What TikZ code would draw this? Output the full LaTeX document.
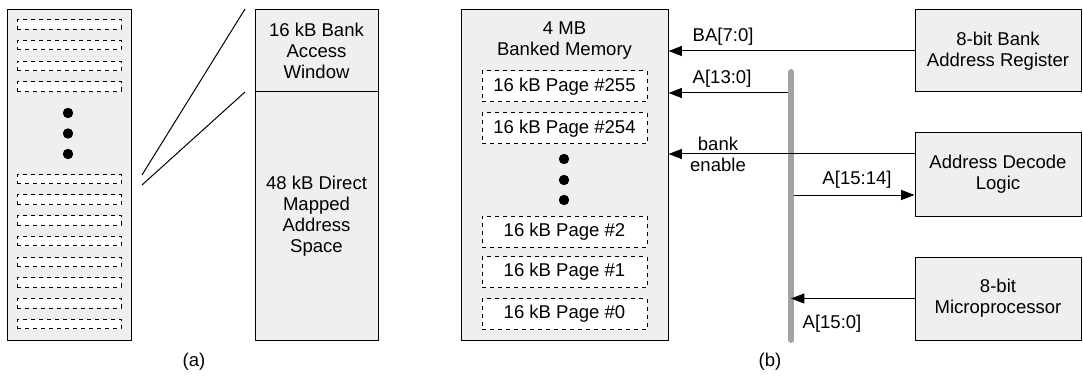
\documentclass[tikz,border=0pt]{standalone}
\usepackage{fontspec}
\setmainfont{Liberation Sans}
\usetikzlibrary{arrows.meta,positioning}
\definecolor{boxgray}{RGB}{239,239,239}
\definecolor{busgray}{RGB}{163,163,163}

\begin{document}
\begin{tikzpicture}[
    x=0.75pt, y=-0.75pt,
    font=\fontsize{13.9}{15.75}\selectfont,
    block/.style={draw, fill=boxgray, line width=0.75pt, align=center, inner sep=0pt},
    slot/.style={draw, fill=white, dashed, line width=0.75pt, minimum width=78pt, minimum height=7.2pt, inner sep=0pt},
    page/.style={draw, fill=white, dashed, line width=0.75pt, minimum width=123.75pt, minimum height=23.25pt, inner sep=0pt},
    dot/.style={circle, fill=black, inner sep=0pt, minimum size=7.8pt},
    sig/.style={-{Triangle[length=10pt, width=7.5pt]}, line width=0.75pt}
]
\useasboundingbox (0,0) rectangle (1083,378);

% (a) Banked memory with its slots
\node[block, minimum width=93pt, minimum height=247.5pt] (banks) at (69,175) {};
\foreach \i in {0,...,3}
    \node[slot] (top\i) at (69, 24.5+20.7*\i) {};
\foreach \i in {0,...,7}
    \node[slot] (low\i) at (69, 179+20.7*\i) {};
\node[dot] (adot1) at (68,113) {};
\node[dot] (adot2) at (68,133.5) {};
\node[dot] (adot3) at (68,154) {};

% (a) Address space
\node[block, minimum width=92.25pt, minimum height=61.5pt] (window) at (316.5,51)
    {16 kB Bank\\Access\\Window};
\node[block, minimum width=92.25pt, minimum height=186pt] (direct) at (316.5,216)
    {48 kB Direct\\Mapped\\Address\\Space};

% Zoom lines
\coordinate (zfrom1) at (142,175);
\coordinate (zto1) at (245,9);
\coordinate (zfrom2) at (142,185);
\coordinate (zto2) at (245,92);
\draw[line width=0.75pt] (zfrom1) -- (zto1);
\draw[line width=0.75pt] (zfrom2) -- (zto2);

\node at (194,362) {(a)};

% (b) Banked memory
\node[block, minimum width=155.25pt, minimum height=247.5pt] (mem) at (564.5,175) {};
\node[align=center] (memtitle) at (564.5,41) {4 MB\\Banked Memory};
\node[page] (page255) at (564.5,86.5) {16 kB Page \#255};
\node[page] (page254) at (564.5,128.5) {16 kB Page \#254};
\node[dot] (bdot1) at (564,159) {};
\node[dot] (bdot2) at (564,180) {};
\node[dot] (bdot3) at (564,200) {};
\node[page] (page2) at (564.5,231.5) {16 kB Page \#2};
\node[page] (page1) at (564.5,272) {16 kB Page \#1};
\node[page] (page0) at (564.5,314) {16 kB Page \#0};

% (b) Control blocks
\node[block, minimum width=124.5pt, minimum height=61.5pt] (reg) at (998,51)
    {8-bit Bank\\Address Register};
\node[block, minimum width=124.5pt, minimum height=62.25pt] (decode) at (998,174.5)
    {Address Decode\\Logic};
\node[block, minimum width=124.5pt, minimum height=62.25pt] (cpu) at (998,298.5)
    {8-bit\\Microprocessor};

% Address bus
\coordinate (bustop) at (791,72);
\coordinate (busbot) at (791,340);
\draw[busgray, line width=4.5pt, line cap=round] (bustop) -- (busbot);

% Signals
\coordinate (a13) at (788,93);
\coordinate (enable) at (915,154);
\coordinate (a1514) at (794,195);
\draw[sig] (reg.west) -- (reg.west -| mem.east);
\draw[sig] (a13) -- (a13 -| mem.east);
\draw[sig] (enable) -- (enable -| mem.east);
\draw[sig] (a1514) -- (a1514 -| decode.west);
\draw[sig] (cpu.west) -- (cpu.west -| bustop);

% Signal labels
\node[anchor=west] (balabel) at (688,37) {BA[7:0]};
\node[anchor=west] (a13label) at (688,79) {A[13:0]};
\node[align=center] (enlabel) at (718,154) {bank\\enable};
\node (a1514label) at (857,180) {A[15:14]};
\node (a150label) at (832,324) {A[15:0]};

\node at (770,362) {(b)};

\end{tikzpicture}
\end{document}
